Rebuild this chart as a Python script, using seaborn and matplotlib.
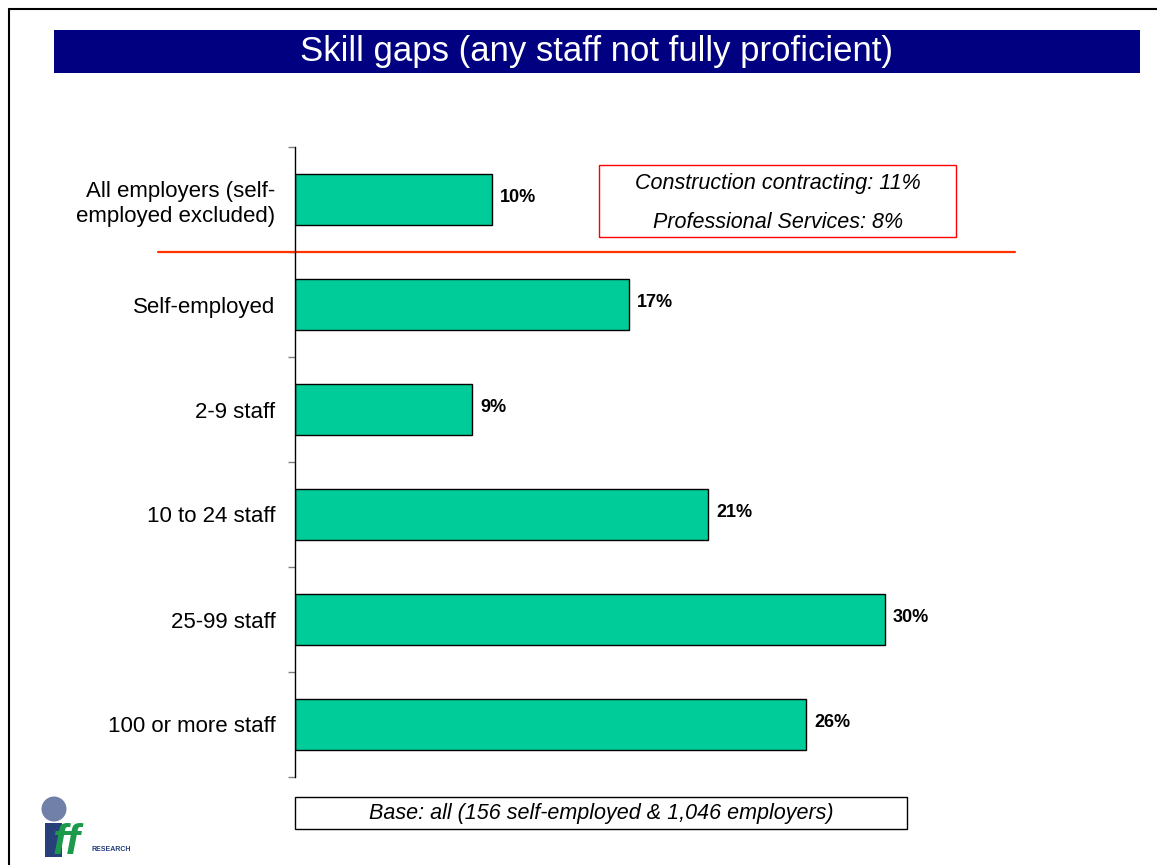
import matplotlib
matplotlib.use("Agg")
import matplotlib.pyplot as plt
import seaborn as sns
import pandas as pd
from matplotlib.patches import Rectangle, Ellipse
from matplotlib.lines import Line2D

categories = ["All employers (self-\nemployed excluded)", "Self-employed", "2-9 staff",
              "10 to 24 staff", "25-99 staff", "100 or more staff"]
values = [10, 17, 9, 21, 30, 26]
sector_notes = ["Construction contracting: 11%", "Professional Services: 8%"]
base_note = "Base: all (156 self-employed & 1,046 employers)"
title = "Skill gaps (any staff not fully proficient)"

df = pd.DataFrame({"group": categories, "pct": values})

sns.set_style("white")
plt.rcParams["font.family"] = ["Liberation Sans", "DejaVu Sans"]
plt.rcParams["text.color"] = "black"
plt.rcParams["ytick.color"] = "#808080"
plt.rcParams["ytick.labelcolor"] = "black"

W, H = 1157, 865
fig = plt.figure(figsize=(W / 100, H / 100), dpi=100)

def fx(px):
    return px / W

def fy(py):
    return 1 - py / H

ax = fig.add_axes([fx(295), fy(777), fx(1015 - 295), (777 - 147) / H])
sns.barplot(data=df, x="pct", y="group", orient="h", color="#00CC99",
            edgecolor="black", linewidth=1, width=0.48, saturation=1, ax=ax)
ax.set_xlim(0, 36.6)
ax.set_ylim(5.5, -0.5)
ax.set_xlabel("")
ax.set_ylabel("")
ax.set_xticks([])
ax.set_yticks(range(len(categories)))
ax.set_yticklabels(categories, fontsize=16, linespacing=1.25)
ax.tick_params(axis="y", which="major", length=0, pad=14, left=False)
ax.set_yticks([i - 0.5 for i in range(len(categories) + 1)], minor=True)
ax.tick_params(axis="y", which="minor", length=5, width=1, left=True,
               color="#808080")
for s in ["top", "right", "bottom"]:
    ax.spines[s].set_visible(False)
ax.spines["left"].set_color("black")
ax.spines["left"].set_linewidth(1)

for i, v in enumerate(values):
    ax.text(v + 0.4, i - 0.02, f"{v}%", va="center", ha="left",
            fontsize=13, fontweight="bold")

# red separator below the all-employers row
ax.plot([-0.19, 1.0], [0.5, 0.5], color="#FF3300", lw=1.6,
        transform=ax.get_yaxis_transform(), clip_on=False)

# outer frame (left + top)
fig.add_artist(Line2D([fx(9), fx(9)], [0, fy(9)], color="black", lw=1.5))
fig.add_artist(Line2D([fx(9), 1], [fy(9), fy(9)], color="black", lw=1.5))

# title bar
fig.add_artist(Rectangle((fx(54), fy(73)), fx(1140 - 54), (73 - 30) / H,
                         facecolor="#000080", edgecolor="none"))
fig.text(fx(597), fy(52), title, color="white", fontsize=25,
         ha="center", va="center")

# sector note box
fig.add_artist(Rectangle((fx(599), fy(237)), fx(956 - 599), (237 - 165) / H,
                         facecolor="white", edgecolor="#FF0000", lw=1))
fig.text(fx(778), fy(183), sector_notes[0], fontsize=15.5, style="italic",
         ha="center", va="center")
fig.text(fx(778), fy(222), sector_notes[1], fontsize=15.5, style="italic",
         ha="center", va="center")

# base box
fig.add_artist(Rectangle((fx(295), fy(829)), fx(907 - 295), (829 - 797) / H,
                         facecolor="white", edgecolor="black", lw=1))
fig.text(fx(601), fy(813), base_note, fontsize=15.5, style="italic",
         ha="center", va="center")

# rough logo
fig.add_artist(Ellipse((fx(54), fy(809)), fx(25), 25 / H,
                       facecolor="#7080A8", edgecolor="none"))
fig.add_artist(Rectangle((fx(45), fy(857)), fx(17), 34 / H,
                         facecolor="#27407A", edgecolor="none"))
fig.text(fx(52), fy(854), "ff", color="#1A9A4A", fontsize=31, style="italic",
         fontweight="bold", ha="left", va="baseline")
fig.text(fx(91), fy(851), "RESEARCH", color="#27407A", fontsize=5,
         fontweight="bold", ha="left", va="baseline")

fig.savefig("out.png", dpi=100)
